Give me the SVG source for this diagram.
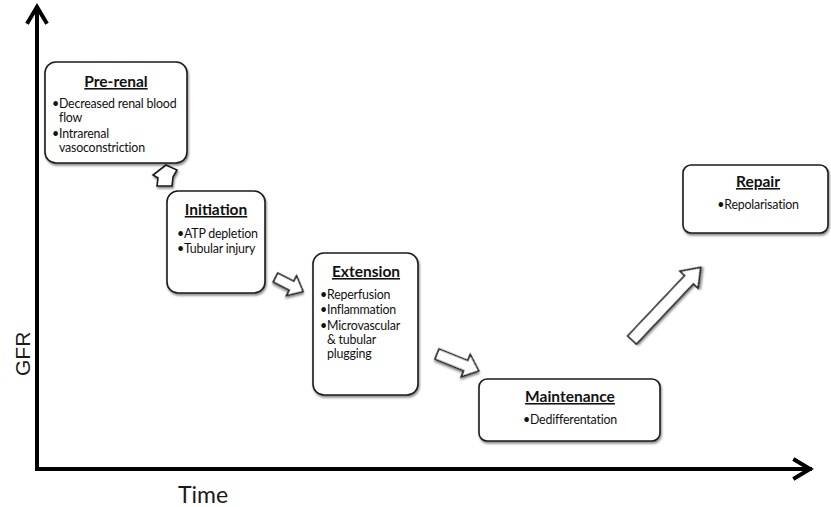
<svg xmlns="http://www.w3.org/2000/svg" width="831" height="507" viewBox="0 0 831 507">
<defs>
<filter id="sh" x="-10%" y="-10%" width="125%" height="130%">
<feDropShadow dx="1" dy="2" stdDeviation="1.2" flood-color="#000" flood-opacity="0.45"/>
</filter>
</defs>
<style>
.box{fill:#fff;stroke:#1a1a1a;stroke-width:1.6;filter:url(#sh)}
.ttl{font-family:Lato,"Open Sans",sans-serif;font-weight:bold;font-size:15.5px;text-decoration:underline;fill:#111;text-anchor:middle}
.bl{font-family:Lato,"Open Sans",sans-serif;font-size:12.4px;letter-spacing:-0.2px;fill:#111}
.ax{fill:none;stroke:#000;stroke-width:4;stroke-linecap:square;stroke-linejoin:miter}
.ba{fill:#fff;stroke:#1a1a1a;stroke-width:1.6;stroke-linejoin:miter;filter:url(#sh)}
.lab{font-family:Lato,"Open Sans",sans-serif;font-size:23px;fill:#1a1a1a}
</style>
<rect width="831" height="507" fill="#fff"/>
<g id="axes">
<path class="ax" d="M37,469 V8 M28,22 L37,7 L46,22"/>
<path class="ax" d="M37,469 H810 M795,460 L810,469 L795,478"/>
<text class="lab" x="178" y="503">Time</text>
<text class="lab" transform="translate(30,376) rotate(-90)" style="font-family:'Liberation Sans',Arial,sans-serif;font-size:21px">GFR</text>
</g>
<g id="connectors">
<path class="ba" d="M166,165 L177,170 L173,177 L172,186 L157,186 L158,178 L153,175 Z"/>
<path class="ba" transform="translate(275.5,277.5) rotate(27)" d="M0,-5 L18,-5 L18,-11 L31,0 L18,11 L18,5 L0,5 Z"/>
<path class="ba" transform="translate(437,354) rotate(22)" d="M0,-5.5 L31,-5.5 L31,-12 L45,0 L31,12 L31,5.5 L0,5.5 Z"/>
<path class="ba" transform="translate(632,340) rotate(-46.6)" d="M0,-6 L83,-6 L83,-12.5 L100,0 L83,12.5 L83,6 L0,6 Z"/>
</g>
<g id="prerenal">
<rect class="box" x="45" y="62" width="142" height="101" rx="11"/>
<text class="ttl" x="116" y="87">Pre-renal</text>
<text class="bl" x="52" y="108">•Decreased renal blood</text>
<text class="bl" x="59" y="122">flow</text>
<text class="bl" x="52" y="138">•Intrarenal</text>
<text class="bl" x="59" y="152">vasoconstriction</text>
</g>
<g id="initiation">
<rect class="box" x="167" y="191" width="98" height="102" rx="11"/>
<text class="ttl" x="216" y="215">Initiation</text>
<text class="bl" x="177" y="238">•ATP depletion</text>
<text class="bl" x="177" y="253">•Tubular injury</text>
</g>
<g id="extension">
<rect class="box" x="313" y="253" width="105" height="142" rx="11"/>
<text class="ttl" x="366" y="277">Extension</text>
<text class="bl" x="320" y="299">•Reperfusion</text>
<text class="bl" x="320" y="314">•Inflammation</text>
<text class="bl" x="320" y="330">•Microvascular</text>
<text class="bl" x="327" y="344">&amp; tubular</text>
<text class="bl" x="327" y="358">plugging</text>
</g>
<g id="maintenance">
<rect class="box" x="479" y="379" width="181" height="62" rx="8"/>
<text class="ttl" x="570" y="402">Maintenance</text>
<text class="bl" x="570" y="424" text-anchor="middle">•Dedifferentation</text>
</g>
<g id="repair">
<rect class="box" x="683" y="165" width="145" height="68" rx="8"/>
<text class="ttl" x="758" y="187">Repair</text>
<text class="bl" x="758" y="209" text-anchor="middle">•Repolarisation</text>
</g>
</svg>
